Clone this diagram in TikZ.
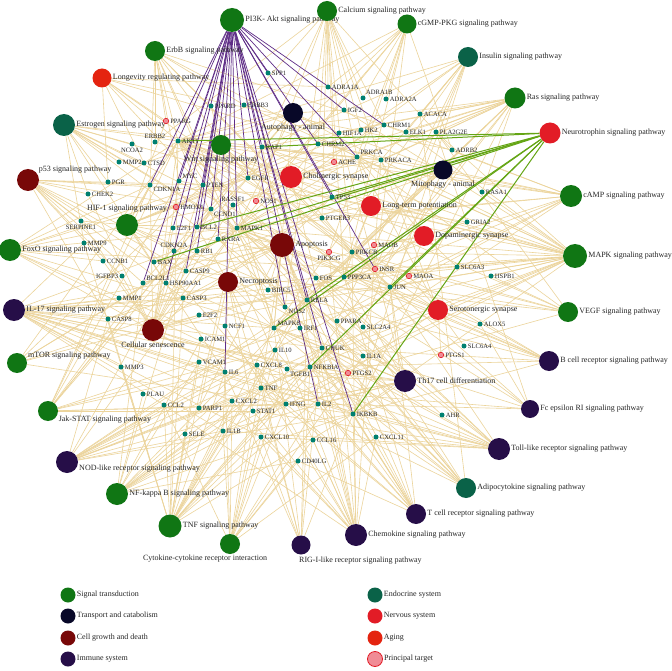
\documentclass[tikz,border=0pt]{standalone}
\usepackage{fontspec}
\setmainfont{Liberation Serif}
\usetikzlibrary{backgrounds}
\definecolor{sigcol}{RGB}{16,118,20}
\definecolor{endocol}{RGB}{10,98,72}
\definecolor{transcol}{RGB}{8,8,40}
\definecolor{cellcol}{RGB}{120,8,8}
\definecolor{immcol}{RGB}{38,14,72}
\definecolor{nervcol}{RGB}{226,28,38}
\definecolor{agecol}{RGB}{228,36,16}
\definecolor{tgtcol}{RGB}{240,140,150}
\definecolor{genecol}{RGB}{0,128,112}
\definecolor{tanline}{RGB}{236,212,155}
\definecolor{pikline}{RGB}{95,45,135}
\definecolor{neuline}{RGB}{100,165,20}

\begin{document}
\begin{tikzpicture}[x=1pt,y=-1pt,
  pw/.style={circle,inner sep=0pt,minimum size=#1},
  gene/.style={circle,fill=genecol,inner sep=0pt,minimum size=5pt},
  ptgt/.style={circle,fill=tgtcol,draw=nervcol,line width=0.6pt,inner sep=0pt,minimum size=5.5pt},
  plab/.style={font=\fontsize{8}{9}\selectfont,text=black!85,inner sep=1pt},
  glab/.style={font=\fontsize{6.6}{7}\selectfont,text=black!85,inner sep=1pt},
  tanedge/.style={draw=tanline,line width=0.6pt},
  pikedge/.style={draw=pikline,line width=0.7pt},
  neuedge/.style={draw=neuline,line width=1pt},
  legdot/.style={circle,inner sep=0pt,minimum size=15pt}]
  \useasboundingbox (0,0) rectangle (672,671);

  % pathways
  \node[pw=24,fill=sigcol,label={[plab]right:PI3K- Akt signaling pathway}] (pik) at (232,20) {};
  \node[pw=20,fill=sigcol,label={[plab]right:Calcium signaling pathway}] (calc) at (327,11) {};
  \node[pw=19,fill=sigcol,label={[plab]right:cGMP-PKG signaling pathway}] (cgmp) at (407,24) {};
  \node[pw=20,fill=sigcol,label={[plab]right:ErbB signaling pathway}] (erbb) at (155,51) {};
  \node[pw=20,fill=endocol,label={[plab]right:Insulin signaling pathway}] (insu) at (468,57) {};
  \node[pw=19,fill=agecol,label={[plab]right:Longevity regulating pathway}] (longev) at (102,78) {};
  \node[pw=21,fill=sigcol,label={[plab]right:Ras signaling pathway}] (ras) at (515,98) {};
  \node[pw=20,fill=transcol,label={[plab]below:Autophagy - animal}] (autoph) at (293,113) {};
  \node[pw=21,fill=nervcol,label={[plab]right:Neurotrophin signaling pathway}] (neuro) at (550,133) {};
  \node[pw=22,fill=endocol,label={[plab]right:Estrogen signaling pathway}] (estro) at (64,125) {};
  \node[pw=20,fill=sigcol,label={[plab]below:Wnt signaling pathway}] (wnt) at (221,145) {};
  \node[pw=22,fill=nervcol,label={[plab]right:Cholinergic synapse}] (choli) at (291,177) {};
  \node[pw=19,fill=transcol,label={[plab]below:Mitophagy - animal}] (mitoph) at (443,170) {};
  \node[pw=22,fill=cellcol,label={[plab]30:p53 signaling pathway}] (p53) at (28,180) {};
  \node[pw=22,fill=sigcol,label={[plab]right:cAMP signaling pathway}] (camp) at (571,196) {};
  \node[pw=22,fill=sigcol,label={[plab]above:HIF-1 signaling pathway}] (hif) at (127,225) {};
  \node[pw=20,fill=nervcol,label={[plab]right:Long-term potentiation}] (ltp) at (371,206) {};
  \node[pw=22,fill=sigcol,label={[plab]right:FoxO signaling pathway}] (foxo) at (10,250) {};
  \node[pw=24,fill=cellcol,label={[plab]right:Apoptosis}] (apop) at (282,245) {};
  \node[pw=20,fill=nervcol,label={[plab]right:Dopaminergic synapse}] (dopa) at (424,236) {};
  \node[pw=24,fill=sigcol,label={[plab]right:MAPK signaling pathway}] (mapk) at (575,256) {};
  \node[pw=20,fill=cellcol,label={[plab]right:Necroptosis}] (necro) at (228,282) {};
  \node[pw=22,fill=immcol,label={[plab]right:IL-17 signaling pathway}] (il17) at (14,310) {};
  \node[pw=20,fill=nervcol,label={[plab]right:Serotonergic synapse}] (sero) at (438,310) {};
  \node[pw=20,fill=sigcol,label={[plab]right:VEGF signaling pathway}] (vegf) at (568,312) {};
  \node[pw=22,fill=cellcol,label={[plab]below:Cellular senescence}] (senes) at (153,330) {};
  \node[pw=20,fill=immcol,label={[plab]right:B cell receptor signaling pathway}] (bcell) at (549,361) {};
  \node[pw=20,fill=sigcol,label={[plab]15:mTOR signaling pathway}] (mtor) at (17,363) {};
  \node[pw=22,fill=immcol,label={[plab]right:Th17 cell differentiation}] (th17) at (405,381) {};
  \node[pw=18,fill=immcol,label={[plab]right:Fc epsilon RI signaling pathway}] (fceri) at (530,409) {};
  \node[pw=20,fill=sigcol,label={[plab]-20:Jak-STAT signaling pathway}] (jak) at (48,411) {};
  \node[pw=22,fill=immcol,label={[plab]right:Toll-like receptor signaling pathway}] (toll) at (499,449) {};
  \node[pw=22,fill=immcol,label={[plab]-10:NOD-like receptor signaling pathway}] (nod) at (67,462) {};
  \node[pw=20,fill=endocol,label={[plab]right:Adipocytokine signaling pathway}] (adipo) at (466,488) {};
  \node[pw=22,fill=sigcol,label={[plab]right:NF-kappa B signaling pathway}] (nfkb) at (117,494) {};
  \node[pw=20,fill=immcol,label={[plab]right:T cell receptor signaling pathway}] (tcell) at (416,514) {};
  \node[pw=23,fill=sigcol,label={[plab]right:TNF signaling pathway}] (tnfp) at (170,526) {};
  \node[pw=20,fill=sigcol,label={[plab,xshift=-25pt]below:Cytokine-cytokine receptor interaction}] (cyto) at (230,544) {};
  \node[pw=22,fill=immcol,label={[plab]right:Chemokine signaling pathway}] (chemo) at (356,535) {};
  \node[pw=19,fill=immcol] (rig) at (301,545) {};
  \node[plab,anchor=west] (rigl) at (298,561) {RIG-I-like receptor signaling pathway};

  % genes
  \node[gene,label={[glab]right:SPP1}] (SPP1) at (268,73) {};
  \node[gene,label={[glab]right:ADRA1A}] (ADRA1A) at (328,87) {};
  \node[gene,label={[glab]45:ADRA1B}] (ADRA1B) at (363,98) {};
  \node[gene,label={[glab]right:ADRA2A}] (ADRA2A) at (386,99) {};
  \node[gene,label={[glab]right:IGF2}] (IGF2) at (344,110) {};
  \node[gene,label={[glab]right:PPARD}] (PPARD) at (211,106) {};
  \node[gene,label={[glab]right:ERBB3}] (ERBB3) at (244,105) {};
  \node[ptgt,label={[glab]right:PPARG}] (PPARG) at (166,121) {};
  \node[gene,label={[glab]above:ERBB2}] (ERBB2) at (155,142) {};
  \node[gene,label={[glab]right:AKT1}] (AKT1) at (178,141) {};
  \node[gene,label={[glab]below:NCOA2}] (NCOA2) at (132,144) {};
  \node[gene,label={[glab]right:MMP2}] (MMP2) at (119,162) {};
  \node[gene,label={[glab]right:CTSD}] (CTSD) at (144,163) {};
  \node[gene,label={[glab]right:PGR}] (PGR) at (108,182) {};
  \node[gene,label={[glab]right:CHEK2}] (CHEK2) at (88,194) {};
  \node[gene,label={[glab]-30:CDKN1A}] (CDKN1A) at (150,185) {};
  \node[gene,label={[glab]30:MYC}] (MYC) at (179,181) {};
  \node[gene,label={[glab]right:PTEN}] (PTEN) at (203,185) {};
  \node[gene,label={[glab]right:HIF1A}] (HIF1A) at (339,133) {};
  \node[gene,label={[glab]right:HK2}] (HK2) at (361,130) {};
  \node[gene,label={[glab]right:CHRM1}] (CHRM1) at (384,125) {};
  \node[gene,label={[glab]right:ACACA}] (ACACA) at (420,114) {};
  \node[gene,label={[glab]right:ELK1}] (ELK1) at (406,132) {};
  \node[gene,label={[glab]right:PLA2G2E}] (PLA2G2E) at (436,132) {};
  \node[gene,label={[glab]right:RAP1}] (RAP1) at (262,147) {};
  \node[gene,label={[glab]right:CHRM2}] (CHRM2) at (318,144) {};
  \node[ptgt,label={[glab]right:ACHE}] (ACHE) at (334,162) {};
  \node[gene,label={[glab]30:PRKCA}] (PRKCA) at (357,157) {};
  \node[gene,label={[glab]right:PRKACA}] (PRKACA) at (381,160) {};
  \node[gene,label={[glab]right:ADRB2}] (ADRB2) at (452,150) {};
  \node[gene,label={[glab]right:EGFR}] (EGFR) at (248,178) {};
  \node[ptgt,label={[glab]right:NOS1}] (NOS1) at (256,201) {};
  \node[gene,label={[glab]above:RASSF1}] (RASSF1) at (233,205) {};
  \node[ptgt,label={[glab]right:HMOX1}] (HMOX1) at (176,207) {};
  \node[gene,label={[glab]below right:CCND1}] (CCND1) at (211,209) {};
  \node[gene,label={[glab]right:E2F1}] (E2F1) at (173,228) {};
  \node[gene,label={[glab]right:BCL2}] (BCL2) at (197,227) {};
  \node[gene,label={[glab]right:MAPK1}] (MAPK1) at (237,228) {};
  \node[gene,label={[glab]right:RXRA}] (RXRA) at (218,239) {};
  \node[gene,label={[glab]right:TP53}] (TP53) at (332,197) {};
  \node[gene,label={[glab]right:PTGER3}] (PTGER3) at (322,218) {};
  \node[gene,label={[glab]above:CDKN2A}] (CDKN2A) at (174,251) {};
  \node[gene,label={[glab]right:RB1}] (RB1) at (197,251) {};
  \node[gene,label={[glab]right:BAX}] (BAX) at (154,262) {};
  \node[gene,label={[glab]right:CASP9}] (CASP9) at (186,271) {};
  \node[gene,label={[glab]left:IGFBP3}] (IGFBP3) at (122,276) {};
  \node[gene,label={[glab]40:BCL2L1}] (BCL2L1) at (143,283) {};
  \node[gene,label={[glab]right:HSP90AA1}] (HSP90AA1) at (166,283) {};
  \node[gene,label={[glab]below:SERPINE1}] (SERPINE1) at (81,221) {};
  \node[gene,label={[glab]right:MMP9}] (MMP9) at (84,243) {};
  \node[gene,label={[glab]right:CCNB1}] (CCNB1) at (103,261) {};
  \node[gene,label={[glab]right:MMP1}] (MMP1) at (119,298) {};
  \node[gene,label={[glab]right:CASP3}] (CASP3) at (183,298) {};
  \node[gene,label={[glab]right:CASP8}] (CASP8) at (108,319) {};
  \node[gene,label={[glab]right:E2F2}] (E2F2) at (199,315) {};
  \node[gene,label={[glab]right:ICAM1}] (ICAM1) at (201,339) {};
  \node[gene,label={[glab]right:VCAM1}] (VCAM1) at (199,362) {};
  \node[gene,label={[glab]right:MMP3}] (MMP3) at (121,367) {};
  \node[gene,label={[glab]right:PLAU}] (PLAU) at (143,394) {};
  \node[gene,label={[glab]right:BIRC5}] (BIRC5) at (268,290) {};
  \node[gene,label={[glab]right:NCF1}] (NCF1) at (225,326) {};
  \node[gene,label={[glab]right:FOS}] (FOS) at (316,278) {};
  \node[gene,label={[glab]right:PPP3CA}] (PPP3CA) at (344,277) {};
  \node[ptgt,label={[glab]below:PIK3CG}] (PIK3CG) at (329,252) {};
  \node[gene,label={[glab]right:PRKCB}] (PRKCB) at (352,252) {};
  \node[ptgt,label={[glab]right:MAOB}] (MAOB) at (374,245) {};
  \node[ptgt,label={[glab]right:INSR}] (INSR) at (375,269) {};
  \node[ptgt,label={[glab]right:MAOA}] (MAOA) at (409,276) {};
  \node[gene,label={[glab]right:JUN}] (JUN) at (390,287) {};
  \node[gene,label={[glab]right:RELA}] (RELA) at (307,300) {};
  \node[gene,label={[glab]-20:NOS2}] (NOS2) at (285,307) {};
  \node[gene,label={[glab]30:MAPK8}] (MAPK8) at (274,328) {};
  \node[gene,label={[glab]right:IRF1}] (IRF1) at (300,328) {};
  \node[gene,label={[glab]right:PPARA}] (PPARA) at (337,321) {};
  \node[gene,label={[glab]right:SLC2A4}] (SLC2A4) at (363,327) {};
  \node[gene,label={[glab]right:IL10}] (IL10) at (275,350) {};
  \node[gene,label={[glab]right:CHUK}] (CHUK) at (322,348) {};
  \node[gene,label={[glab]right:IL1A}] (IL1A) at (363,356) {};
  \node[gene,label={[glab]right:CXCL8}] (CXCL8) at (257,365) {};
  \node[gene,label={[glab]below right:TGFB1}] (TGFB1) at (287,369) {};
  \node[gene,label={[glab]right:NFKBIA}] (NFKBIA) at (310,367) {};
  \node[ptgt,label={[glab]right:PTGS2}] (PTGS2) at (348,373) {};
  \node[gene,label={[glab]right:IL6}] (IL6) at (225,372) {};
  \node[gene,label={[glab]right:TNF}] (TNF) at (261,388) {};
  \node[gene,label={[glab]right:CXCL2}] (CXCL2) at (232,401) {};
  \node[gene,label={[glab]right:PARP1}] (PARP1) at (199,408) {};
  \node[gene,label={[glab]right:CCL2}] (CCL2) at (164,405) {};
  \node[gene,label={[glab]right:STAT1}] (STAT1) at (253,411) {};
  \node[gene,label={[glab]right:IFNG}] (IFNG) at (286,404) {};
  \node[gene,label={[glab]right:IL2}] (IL2) at (318,404) {};
  \node[gene,label={[glab]right:IKBKB}] (IKBKB) at (353,414) {};
  \node[gene,label={[glab]right:SELE}] (SELE) at (185,434) {};
  \node[gene,label={[glab]right:IL1B}] (IL1B) at (223,431) {};
  \node[gene,label={[glab]right:CXCL10}] (CXCL10) at (261,437) {};
  \node[gene,label={[glab]right:CCL16}] (CCL16) at (313,440) {};
  \node[gene,label={[glab]right:CXCL11}] (CXCL11) at (376,437) {};
  \node[gene,label={[glab]right:CD40LG}] (CD40LG) at (298,461) {};
  \node[gene,label={[glab]right:AHR}] (AHR) at (442,415) {};
  \node[gene,label={[glab]right:HSPB1}] (HSPB1) at (491,276) {};
  \node[gene,label={[glab]right:GRIA2}] (GRIA2) at (467,222) {};
  \node[gene,label={[glab]right:RASA1}] (RASA1) at (482,192) {};
  \node[gene,label={[glab]right:SLC6A3}] (SLC6A3) at (457,267) {};
  \node[gene,label={[glab]right:ALOX5}] (ALOX5) at (480,324) {};
  \node[gene,label={[glab]right:SLC6A4}] (SLC6A4) at (464,346) {};
  \node[ptgt,label={[glab]right:PTGS1}] (PTGS1) at (441,355) {};

  % links
  \begin{scope}[on background layer]
    \fill[white] (0,0) rectangle (672,671);
    \foreach \p/\gl in {
      calc/{ADRA1A,ADRA1B,CHRM1,CHRM2,PRKCA,PRKACA,EGFR,NOS1,NOS2,PTGER3,PRKCB,PPP3CA,ERBB2,ERBB3,ADRB2,HK2,ACHE},
      cgmp/{ADRA1A,ADRA1B,ADRA2A,ADRB2,INSR,PPP3CA,AKT1,MAPK1,PIK3CG,PRKCA,NOS1,BCL2},
      erbb/{ERBB2,ERBB3,EGFR,AKT1,MYC,CDKN1A,MAPK1,MAPK8,PRKCA,PRKCB,ELK1,JUN,PPARG},
      insu/{INSR,AKT1,MAPK1,ELK1,HK2,PRKACA,ACACA,MAPK8,RAP1,IKBKB,SLC2A4,PPARA},
      longev/{AKT1,INSR,PPARG,ADRA1A,ADRB2,PRKACA,RELA,CTSD,PGR},
      ras/{RAP1,AKT1,EGFR,MAPK1,ELK1,PLA2G2E,RASA1,INSR,RELA,CHUK,IKBKB,PRKCA,PRKCB,PRKACA,MAPK8,RASSF1,ACACA,HIF1A},
      autoph/{AKT1,PTEN,BCL2,BCL2L1,MAPK1,MAPK8,PRKACA,CTSD,HIF1A,IGF2},
      estro/{NCOA2,MMP2,MMP9,CTSD,PGR,AKT1,HSP90AA1,FOS,JUN,MAPK1,BCL2,EGFR,PRKACA,CHEK2},
      wnt/{MYC,CCND1,JUN,TP53,PRKCA,PRKCB,PRKACA,PPP3CA,MAPK8,PPARD},
      choli/{CHRM1,CHRM2,ACHE,PRKCA,PRKACA,PRKCB,AKT1,FOS,MAPK1,BCL2},
      mitoph/{HIF1A,TP53,JUN,RELA,MAPK8,BCL2L1},
      p53/{CDKN1A,CHEK2,CCND1,CDKN2A,BAX,CASP9,CASP3,CASP8,TP53,SERPINE1,IGFBP3,CCNB1,PTEN,BCL2L1},
      camp/{ADRB2,CHRM1,CHRM2,PRKACA,AKT1,FOS,JUN,MAPK1,RAP1,PPARA,NFKBIA,RELA,PTGER3},
      hif/{HIF1A,HMOX1,EGFR,BCL2,AKT1,SERPINE1,CDKN1A,IL6,INSR,NOS2,HK2,MAPK1,IFNG,RELA,PPARG},
      ltp/{PRKCA,PRKCB,PRKACA,MAPK1,PPP3CA,RAP1,GRIA2},
      foxo/{AKT1,CDKN1A,CCND1,CCNB1,MAPK1,MAPK8,EGFR,INSR,TGFB1,IKBKB,IL6,PTEN},
      apop/{BCL2,BAX,CASP9,CASP3,CASP8,BCL2L1,TP53,FOS,JUN,RELA,NFKBIA,CHUK,IKBKB,MAPK1,MAPK8,TNF,PARP1,AKT1,BIRC5},
      dopa/{MAOB,MAOA,SLC6A3,GRIA2,PRKCA,PRKCB,PRKACA,PPP3CA,AKT1,MAPK8},
      mapk/{EGFR,ERBB2,ERBB3,AKT1,MAPK1,MAPK8,ELK1,JUN,FOS,HSPB1,RASA1,RAP1,MYC,TP53,PRKCA,PRKCB,PRKACA,PPP3CA,TNF,IL1A,IL1B,TGFB1,RELA,IKBKB,CHUK,CASP3,INSR,IGF2,PLA2G2E},
      necro/{MAPK8,CASP8,TNF,IFNG,STAT1,IL1A,IL1B,PARP1,BAX,BCL2},
      il17/{MMP1,MMP3,MMP9,CASP8,CASP3,CCL2,CXCL8,CXCL2,CXCL10,IL6,IL1B,TNF,PTGS2,FOS,JUN,MAPK1,MAPK8,RELA,NFKBIA,IKBKB,CHUK,HSP90AA1,IFNG},
      sero/{SLC6A4,MAOA,PTGS1,PTGS2,ALOX5,PRKCA,PRKCB,PRKACA,MAPK1},
      vegf/{HSPB1,PTGS2,PLA2G2E,PRKCA,PRKCB,PPP3CA,MAPK1,AKT1,CASP9},
      senes/{CDKN1A,CDKN2A,CCND1,CCNB1,RB1,E2F1,E2F2,TP53,CHEK2,MYC,SERPINE1,IGFBP3,IL6,CXCL8,TGFB1,RELA,PPP3CA,MAPK1,PTEN,AKT1,RASSF1},
      bcell/{FOS,JUN,RELA,NFKBIA,IKBKB,CHUK,MAPK1,PPP3CA,AKT1,PRKCB},
      mtor/{AKT1,PTEN,MAPK1,INSR,IKBKB,PRKCA,PRKCB},
      th17/{IL6,IL2,IFNG,TGFB1,JUN,FOS,RELA,NFKBIA,IKBKB,CHUK,STAT1,HIF1A,RXRA,AHR,PPP3CA,MAPK8,IL1B,HSP90AA1},
      fceri/{ALOX5,PLA2G2E,PRKCB,MAPK1,MAPK8,AKT1,TNF,IL2},
      jak/{IL6,IL2,IFNG,STAT1,MYC,CCND1,BCL2L1,AKT1,EGFR,IL10,BCL2,CDKN1A,IRF1},
      toll/{TNF,IL6,CXCL8,IL1B,CXCL10,CXCL11,FOS,JUN,MAPK1,MAPK8,RELA,NFKBIA,IKBKB,CHUK,AKT1,STAT1},
      nod/{IL6,CXCL8,CXCL2,CCL2,IL1B,TNF,RELA,NFKBIA,IKBKB,CHUK,MAPK1,MAPK8,JUN,STAT1,HSP90AA1,CASP8},
      adipo/{AKT1,TNF,RELA,NFKBIA,IKBKB,CHUK,MAPK8,PPARA,SLC2A4,RXRA,ACACA},
      nfkb/{TNF,IL1B,CXCL8,CXCL2,ICAM1,VCAM1,PTGS2,BCL2,BCL2L1,RELA,NFKBIA,IKBKB,CHUK,CD40LG,PLAU},
      tcell/{IL2,IFNG,TNF,IL10,FOS,JUN,RELA,NFKBIA,IKBKB,CHUK,AKT1,MAPK1,PPP3CA,CD40LG},
      tnfp/{TNF,IL6,IL1B,CXCL2,CXCL10,CCL2,ICAM1,VCAM1,SELE,MMP3,MMP9,PTGS2,FOS,JUN,RELA,NFKBIA,IKBKB,CHUK,MAPK1,MAPK8,CASP3,CASP8,AKT1},
      cyto/{IL6,IL2,IL10,IFNG,TNF,IL1A,IL1B,CXCL8,CXCL2,CXCL10,CXCL11,CCL2,CCL16,CD40LG,TGFB1},
      chemo/{CXCL8,CXCL2,CXCL10,CXCL11,CCL2,CCL16,AKT1,STAT1,RELA,NFKBIA,IKBKB,CHUK,MAPK1,PRKACA,PRKCB,RAP1,NCF1,PIK3CG},
      rig/{TNF,IL6,CXCL8,CXCL10,IKBKB,CHUK,NFKBIA,RELA,MAPK8}}
      \foreach \g in \gl \draw[tanedge] (\p) -- (\g);
    \foreach \g in {SPP1,IGF2,CHRM1,CHRM2,AKT1,MYC,PTEN,CDKN1A,CCND1,E2F1,BCL2,RB1,BCL2L1,HSP90AA1,CASP9,EGFR,RAP1,TP53,MAPK1,RXRA,IL6,INSR,CHUK,IL2,IKBKB,RELA,PRKCA,NOS2}
      \draw[pikedge] (pik) -- (\g);
    \foreach \g in {AKT1,RAP1,MAPK1,BCL2,BAX,TP53,RELA,MAPK8,NFKBIA,JUN,IKBKB}
      \draw[neuedge] (neuro) -- (\g);
  \end{scope}

  % legend
  \node[legdot,fill=sigcol,label={[plab]right:Signal transduction}] (lsig) at (68,595) {};
  \node[legdot,fill=transcol,label={[plab]right:Transport and catabolism}] (ltrans) at (68,616) {};
  \node[legdot,fill=cellcol,label={[plab]right:Cell growth and death}] (lcell) at (68,638) {};
  \node[legdot,fill=immcol,label={[plab]right:Immune system}] (limm) at (68,659) {};
  \node[legdot,fill=endocol,label={[plab]right:Endocrine system}] (lendo) at (375,595) {};
  \node[legdot,fill=nervcol,label={[plab]right:Nervous system}] (lnerv) at (375,616) {};
  \node[legdot,fill=agecol,label={[plab]right:Aging}] (lage) at (375,638) {};
  \node[legdot,fill=tgtcol,draw=nervcol,line width=0.8pt,label={[plab]right:Principal target}] (ltgt) at (375,659) {};
\end{tikzpicture}
\end{document}
